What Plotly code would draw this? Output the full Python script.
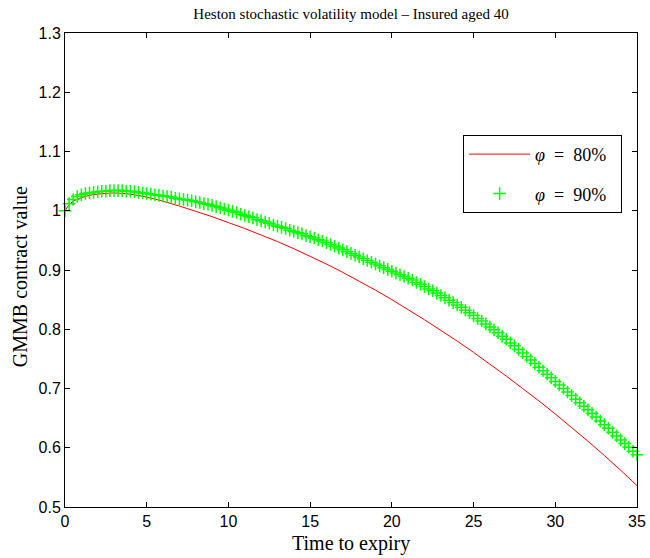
import numpy as np
import plotly.graph_objects as go

# Time to expiry (years) for the red curve
red_t = [0, 0.25, 0.5, 1, 1.5, 2, 3, 4, 5, 6, 7, 8, 9, 10, 11, 12, 13, 14, 15, 16, 17,
         18, 19, 20, 21, 22, 23, 24, 25, 26, 27, 28, 29, 30, 31, 32, 33, 34, 35]
# phi = 80%
red_v = [1.000, 1.010, 1.016, 1.022, 1.026, 1.028, 1.030, 1.028, 1.023, 1.016, 1.008,
         0.999, 0.990, 0.980, 0.970, 0.959, 0.948, 0.936, 0.923, 0.910, 0.896, 0.881,
         0.866, 0.850, 0.833, 0.816, 0.798, 0.780, 0.761, 0.741, 0.721, 0.700, 0.679,
         0.657, 0.634, 0.611, 0.587, 0.562, 0.536]

# phi = 90%, quarterly grid 0..35
green_t = np.linspace(0, 35, 141)
green_v = [
    1.000, 1.012, 1.019, 1.024, 1.027, 1.029, 1.030, 1.031,
    1.032, 1.033, 1.033, 1.034, 1.034, 1.034, 1.034, 1.033,
    1.033, 1.032, 1.031, 1.030, 1.029, 1.028, 1.027, 1.026,
    1.025, 1.024, 1.023, 1.021, 1.020, 1.019, 1.018, 1.017,
    1.015, 1.014, 1.012, 1.011, 1.009, 1.007, 1.005, 1.003,
    1.001, 0.999, 0.997, 0.994, 0.992, 0.990, 0.988, 0.985,
    0.983, 0.981, 0.979, 0.976, 0.974, 0.972, 0.970, 0.967,
    0.965, 0.963, 0.961, 0.958, 0.956, 0.954, 0.951, 0.949,
    0.946, 0.943, 0.940, 0.937, 0.934, 0.931, 0.928, 0.925,
    0.922, 0.919, 0.916, 0.913, 0.910, 0.907, 0.904, 0.901,
    0.898, 0.895, 0.892, 0.889, 0.886, 0.883, 0.879, 0.876,
    0.872, 0.868, 0.865, 0.861, 0.857, 0.853, 0.849, 0.845,
    0.841, 0.837, 0.832, 0.828, 0.823, 0.818, 0.814, 0.809,
    0.804, 0.799, 0.794, 0.788, 0.783, 0.777, 0.772, 0.766,
    0.760, 0.754, 0.748, 0.742, 0.736, 0.730, 0.724, 0.718,
    0.712, 0.706, 0.700, 0.694, 0.688, 0.682, 0.676, 0.670,
    0.664, 0.658, 0.652, 0.645, 0.639, 0.633, 0.626, 0.620,
    0.613, 0.607, 0.601, 0.594, 0.588]

x_ticks = [0, 5, 10, 15, 20, 25, 30, 35]
y_ticks = [0.5, 0.6, 0.7, 0.8, 0.9, 1.0, 1.1, 1.2, 1.3]
y_labels = ["0.5", "0.6", "0.7", "0.8", "0.9", "1", "1.1", "1.2", "1.3"]

serif = "Liberation Serif, Times New Roman, serif"
sans = "Liberation Sans, Arial, sans-serif"

fig = go.Figure()
fig.add_trace(go.Scatter(x=red_t, y=red_v, mode="lines",
                         name="<i>φ</i>\u2002=\u200280%\u2002", legendgroup="a",
                         line=dict(color="#ff0000", width=1, shape="spline")))
fig.add_trace(go.Scatter(x=green_t, y=green_v, mode="markers",
                         name="<i>φ</i>\u2002=\u200290%\u2002", legendgroup="b",
                         cliponaxis=False,
                         marker=dict(symbol="cross-thin", size=9, color="#00ff00",
                                     line=dict(color="#00ff00", width=1.5))))

axis_common = dict(showline=True, linecolor="black", linewidth=1, mirror="ticks",
                   ticks="inside", ticklen=5, tickcolor="black", showgrid=False,
                   zeroline=False, automargin=False, ticklabeloverflow="allow",
                   tickfont=dict(family=sans, size=16, color="black"))

fig.update_layout(
    width=650, height=558,
    margin=dict(l=65, r=13, t=33, b=51),
    paper_bgcolor="white", plot_bgcolor="white",
    title=dict(text="Heston stochastic volatility model – Insured aged 40",
               x=0.54, xanchor="center", y=0.975, yanchor="middle",
               font=dict(family=serif, size=15, color="black")),
    xaxis=dict(range=[0, 35], tickvals=x_ticks, **axis_common),
    yaxis=dict(range=[0.5, 1.3], tickvals=y_ticks, ticktext=y_labels, **axis_common),
    legend=dict(x=0.696, y=0.785, xanchor="left", yanchor="top",
                bgcolor="white", bordercolor="black", borderwidth=1,
                font=dict(family=serif, size=18, color="black"),
                tracegroupgap=13, itemwidth=61),
    showlegend=True,
    annotations=[
        dict(text="Time to expiry", xref="paper", yref="paper", x=0.5, y=-0.078,
             xanchor="center", yanchor="middle", showarrow=False,
             font=dict(family=serif, size=20, color="black")),
        dict(text="GMMB contract value", xref="paper", yref="paper", x=-0.0787, y=0.487,
             xanchor="center", yanchor="middle", showarrow=False, textangle=-90,
             font=dict(family=serif, size=20, color="black")),
    ],
)

# drop the default 8px body margin so the 650x558 figure fills the window
fig.write_html("out.html", config={"displayModeBar": False},
               post_script="document.body.style.margin = '0';")
